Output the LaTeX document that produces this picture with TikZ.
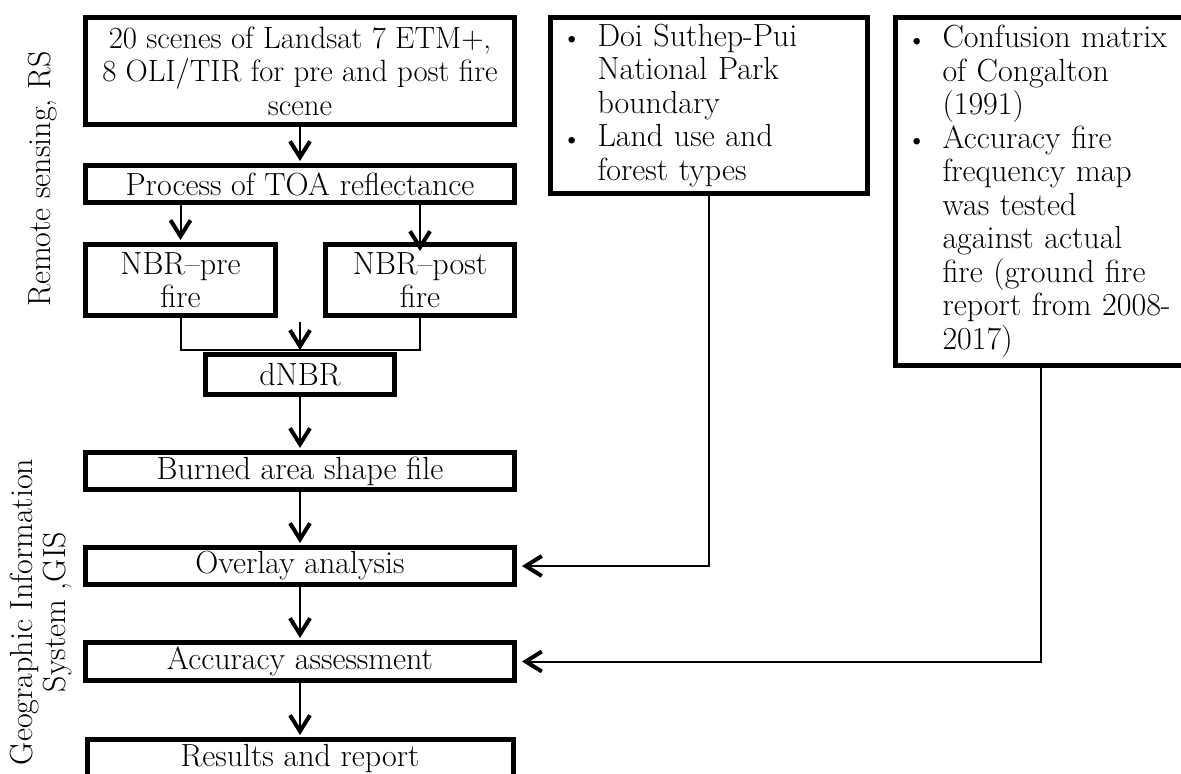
\documentclass[tikz,border=0pt]{standalone}
\usepackage{fontspec}
\setmainfont{Latin Modern Roman}[SizeFeatures={{Size={-}, Font=* }}]
\usetikzlibrary{arrows.meta}

\newcommand{\boxfont}{\fontsize{16}{16.75}\selectfont}
\newcommand{\bul}{\makebox[17.5pt][l]{\raisebox{0.3pt}{\fontsize{12}{12}\selectfont\textbullet}}}
\newcommand{\ind}{\hspace*{17.5pt}}

\tikzset{
  box/.style={draw, line width=2.5pt, inner sep=0pt, align=center, font=\boxfont},
  listbox/.style={draw, line width=2.5pt, inner xsep=6pt, inner ysep=0pt, align=left, font=\boxfont},
  arr/.style={line width=1pt, -{Straight Barb[length=8pt,width=10pt,line width=2pt]}, shorten >=1pt},
  link/.style={line width=1pt},
  side/.style={rotate=90, align=center, font=\boxfont}
}

\begin{document}
\begin{tikzpicture}[x=0.5pt,y=-0.5pt]
  \useasboundingbox (0,0) rectangle (1181,774);
  \clip (0,0) rectangle (1181,774);
  \fill[white] (0,0) rectangle (1181,774);

  % remote sensing part
  \node[box, minimum width=214.5pt, minimum height=53.5pt, font=\fontsize{15.4}{16.75}\selectfont] (scenes) at (300,71)
    {20 scenes of Landsat 7 ETM+,\\8 OLI/TIR for pre and post fire\\scene};
  \node[box, minimum width=214.5pt, minimum height=18.5pt] (toa) at (300,184) {Process of TOA reflectance};
  \node[box, minimum width=95pt, minimum height=35.5pt] (pre) at (180.5,280) {NBR--pre\\fire};
  \node[box, minimum width=94.5pt, minimum height=35.5pt] (post) at (420,280) {NBR--post\\fire};
  \node[box, minimum width=94.5pt, minimum height=20pt] (dnbr) at (300,374.5) {dNBR};

  % GIS part
  \node[box, minimum width=214.5pt, minimum height=18.5pt] (burned) at (300,471) {Burned area shape file};
  \node[box, minimum width=214.5pt, minimum height=18.5pt] (overlay) at (300,566) {Overlay analysis};
  \node[box, minimum width=214.5pt, minimum height=19pt] (accuracy) at (300,661.5) {Accuracy assessment};
  \node[box, minimum width=213pt, minimum height=19pt] (results) at (300,758.5) {Results and report};

  % input boxes on the right
  \node[listbox, text width=146.5pt, minimum height=88pt] (doi) at (709,105.5)
    {\bul Doi Suthep-Pui\\\ind National Park\\\ind boundary\\\bul Land use and\\\ind forest types};
  \node[listbox, text width=133pt, minimum height=174pt] (conf) at (1040.5,191.5)
    {\bul\mbox{Confusion matrix}\\\ind of Congalton\\\ind (1991)\\\bul Accuracy fire\\\ind frequency map\\\ind was tested\\\ind against actual\\\ind\mbox{fire (ground fire}\\\ind\mbox{report from 2008-}\\\ind 2017)};

  % side labels
  \node[side] (rs) at (43,179) {Remote sensing, RS};
  \node[side] (gis) at (41,612) {Geographic Information\\System ,GIS};

  % arrows
  \draw[arr] (scenes) -- (toa);
  \draw[arr] (toa.south -| pre) -- (pre);
  \draw[arr] (toa.south -| post) -- ([yshift=-5.5pt]post.north);
  \coordinate (jn) at ([yshift=1pt]dnbr.north);
  \coordinate (dtop) at ([yshift=15pt]dnbr.north);
  \draw[link] (pre.south) |- (jn) -| (post.south);
  \draw[arr] (dtop) -- (dnbr);
  \draw[arr] (dnbr) -- (burned);
  \draw[arr] (burned) -- (overlay);
  \draw[arr] (overlay) -- (accuracy);
  \draw[arr] (accuracy) -- (results);
  \draw[arr, shorten >=2.5pt] (doi.south) |- (overlay.east);
  \draw[arr, shorten >=2.5pt] (conf.south) |- (accuracy.east);
\end{tikzpicture}
\end{document}
